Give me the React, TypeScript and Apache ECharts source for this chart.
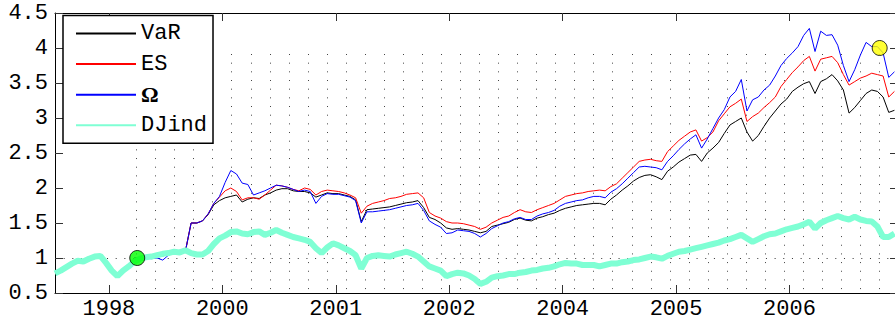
import React, { useEffect, useRef } from 'react';
import * as echarts from 'echarts';

// x axis: trading-period index; labelled ticks
const tickValues = [0, 20, 40, 60, 80, 100, 120];
const tickLabels = ['1998', '2000', '2001', '2002', '2004', '2005', '2006'];
const xMin = -9.5;
const xMax = 138.6;

// y axis ticks
const yMin = 0.5;
const yMax = 4.5;
const yStep = 0.5;

// DJ industrial index (normalised), first sample at x = -9.5, step 1
const djStart = -9.5;
const djind = [
  0.78, 0.82, 0.87, 0.92, 0.96, 0.95, 0.99, 1.02, 1.03, 0.93,
  0.82, 0.74, 0.82, 0.88, 0.95, 0.99, 1.01, 1.02, 1.04, 1.06,
  1.07, 1.09, 1.08, 1.11, 1.07, 1.05, 1.05, 1.1, 1.2, 1.28,
  1.32, 1.37, 1.38, 1.35, 1.34, 1.37, 1.38, 1.33, 1.36, 1.4,
  1.36, 1.33, 1.3, 1.28, 1.26, 1.23, 1.14, 1.07, 1.15, 1.21,
  1.18, 1.14, 1.1, 1.04, 0.85, 1.0, 1.03, 1.04, 1.03, 1.02,
  1.05, 1.07, 1.09, 1.06, 1.02, 0.95, 0.88, 0.85, 0.82, 0.74,
  0.77, 0.79, 0.78, 0.75, 0.7, 0.63, 0.66, 0.72, 0.74, 0.75,
  0.77, 0.77, 0.79, 0.8, 0.82, 0.83, 0.85, 0.86, 0.88, 0.91,
  0.93, 0.92, 0.92, 0.9, 0.9, 0.9, 0.88, 0.9, 0.92, 0.92,
  0.94, 0.95, 0.97, 0.98, 1.0, 1.02, 1.01, 0.99, 1.03, 1.06,
  1.09, 1.1, 1.12, 1.14, 1.16, 1.18, 1.2, 1.22, 1.25, 1.27,
  1.3, 1.33, 1.28, 1.23, 1.27, 1.31, 1.34, 1.35, 1.38, 1.41,
  1.43, 1.45, 1.48, 1.52, 1.42, 1.5, 1.54, 1.57, 1.6, 1.57,
  1.55, 1.59, 1.55, 1.53, 1.52, 1.45, 1.3, 1.3, 1.35,
];

// Strategy portfolios, first sample at x = 4.5, step 1
const stratStart = 4.5;
const varValues = [
  1.0, 1.0, 1.01, 1.0, 1.02, 1.03, 1.05, 1.07, 1.08,
  1.1, 1.5, 1.5, 1.53, 1.62, 1.76, 1.82, 1.86, 1.88, 1.9,
  1.8, 1.84, 1.86, 1.85, 1.9, 1.93, 1.97, 1.99, 1.99, 1.96,
  1.95, 1.95, 1.93, 1.87, 1.9, 1.93, 1.92, 1.92, 1.9, 1.88,
  1.83, 1.52, 1.69, 1.7, 1.71, 1.72, 1.73, 1.75, 1.77, 1.79,
  1.8, 1.82, 1.72, 1.58, 1.55, 1.5, 1.43, 1.41, 1.42, 1.41,
  1.4, 1.38, 1.36, 1.38, 1.45, 1.47, 1.49, 1.51, 1.55, 1.57,
  1.54, 1.53, 1.57, 1.59, 1.62, 1.64, 1.68, 1.71, 1.73, 1.75,
  1.76, 1.77, 1.78, 1.78, 1.76, 1.84, 1.9, 1.97, 2.03, 2.1,
  2.15, 2.18, 2.19, 2.16, 2.12, 2.24, 2.3, 2.37, 2.42, 2.47,
  2.48, 2.38, 2.5, 2.57, 2.65, 2.78, 2.9, 2.95, 3.0, 2.8,
  2.67, 2.75, 2.88, 3.0, 3.1, 3.2, 3.27, 3.38, 3.44, 3.49,
  3.52, 3.35, 3.52, 3.56, 3.62, 3.53, 3.4, 3.07, 3.15, 3.25,
  3.35, 3.4, 3.38, 3.3, 3.08, 3.11,
];
const esValues = [
  1.0, 1.0, 1.01, 1.0, 1.02, 1.04, 1.09, 1.08, 1.09,
  1.1, 1.5, 1.5, 1.53, 1.63, 1.78, 1.87, 1.96, 2.0, 1.95,
  1.83, 1.86, 1.86, 1.84, 1.9, 1.97, 2.04, 2.03, 2.01, 1.98,
  1.96, 2.0, 1.98, 1.9, 1.95, 1.97, 1.96, 1.95, 1.93, 1.9,
  1.86, 1.64, 1.74, 1.78, 1.8, 1.82, 1.85, 1.86, 1.88, 1.91,
  1.92, 1.93, 1.86, 1.65, 1.6, 1.57, 1.52, 1.5, 1.5, 1.49,
  1.47, 1.45, 1.41, 1.44, 1.5, 1.54, 1.58, 1.6, 1.65, 1.69,
  1.66, 1.65, 1.69, 1.72, 1.75, 1.78, 1.83, 1.88, 1.9, 1.92,
  1.93, 1.95, 1.96, 1.97, 1.96, 2.02, 2.06, 2.14, 2.22, 2.3,
  2.38, 2.4, 2.41, 2.39, 2.38, 2.52, 2.6, 2.68, 2.74, 2.8,
  2.83, 2.67, 2.72, 2.8, 2.96, 3.06, 3.16, 3.21, 3.27, 2.95,
  3.02, 3.07, 3.15, 3.22, 3.3, 3.45, 3.55, 3.65, 3.73, 3.82,
  3.88, 3.67, 3.84, 3.86, 3.88, 3.79, 3.62, 3.47, 3.52, 3.57,
  3.6, 3.64, 3.62, 3.6, 3.3, 3.38,
];
const omegaValues = [
  1.0, 1.0, 1.0, 0.99, 1.0, 0.97, 1.04, 1.07, 1.08,
  1.1, 1.5, 1.5, 1.53, 1.63, 1.78, 1.88, 2.08, 2.25, 2.2,
  2.07, 2.05, 1.9, 1.93, 1.96, 2.0, 2.04, 2.03, 2.01, 1.98,
  1.95, 1.97, 1.95, 1.78, 1.88, 1.92, 1.91, 1.91, 1.89, 1.87,
  1.82, 1.5, 1.66, 1.66, 1.67, 1.68, 1.69, 1.71, 1.73, 1.75,
  1.76, 1.78, 1.68, 1.53, 1.48, 1.44, 1.35, 1.36, 1.4, 1.39,
  1.38, 1.35, 1.3, 1.35, 1.42, 1.46, 1.5, 1.52, 1.56, 1.58,
  1.55, 1.55, 1.6, 1.63, 1.65, 1.68, 1.74, 1.78, 1.8, 1.82,
  1.83, 1.86, 1.88, 1.88, 1.86, 1.94, 1.99, 2.06, 2.14, 2.22,
  2.3, 2.31, 2.3, 2.29, 2.26, 2.38, 2.46, 2.55, 2.63, 2.7,
  2.76, 2.57, 2.7, 2.85, 3.0, 3.12, 3.3, 3.38, 3.55, 3.1,
  3.26, 3.3, 3.4, 3.47, 3.6, 3.75, 3.85, 3.93, 4.02, 4.18,
  4.28, 3.95, 4.24, 4.18, 4.19, 4.04, 3.75, 3.52, 3.69, 3.9,
  4.08, 4.02, 4.02, 3.93, 3.58, 3.66,
];

// Marker points: [x, value]
const startMarker = [[5, 1.0]];
const endMarker = [[135.9, 4.0]];

const seriesNames = ['VaR', 'ES', 'Ω', 'DJind'];

function toPairs(start: number, vals: number[]) {
  return vals.map((v, i) => [start + i, v]);
}

const MONO = 'Liberation Mono';

export default function App() {
  const ref = useRef<HTMLDivElement>(null);
  useEffect(() => {
    document.body.style.margin = '0';
    if (!ref.current) return;
    const chart = echarts.init(ref.current, null, { renderer: 'svg' });
    const axisLine = { show: true, onZero: false, lineStyle: { color: '#000', width: 1 } };
    const tickStyle = { color: '#333', width: 1 };
    const lineCommon = {
      type: 'line',
      showSymbol: false,
      symbol: 'none',
      xAxisIndex: 0,
      yAxisIndex: 0,
      silent: true,
    };
    chart.setOption({
      animation: false,
      backgroundColor: '#fff',
      grid: [
        { left: 55, top: 13, right: -2, bottom: 28 },
        { left: 136.5, top: 54, right: -2, bottom: 29 },
      ],
      legend: {
        data: seriesNames,
        orient: 'vertical',
        left: 63,
        top: 15.5,
        padding: [7, 6, 7, 12],
        itemWidth: 60,
        itemHeight: 22,
        itemGap: 8.6,
        backgroundColor: '#fff',
        borderColor: '#000',
        borderWidth: 1.5,
        borderRadius: 0,
        selectedMode: false,
        itemStyle: {
          color: 'rgba(0,0,0,0)',
          borderColor: 'rgba(0,0,0,0)',
          borderWidth: 0,
          opacity: 0,
        },
        formatter: (name: string) => (name === 'Ω' ? '{b|Ω}' : name),
        textStyle: {
          fontFamily: MONO,
          fontSize: 22,
          lineHeight: 22,
          color: '#000',
          rich: {
            b: {
              fontFamily: 'Liberation Serif',
              fontWeight: 'bold',
              fontSize: 22,
              lineHeight: 22,
              color: '#000',
            },
          },
        },
      },
      xAxis: [
        {
          type: 'value',
          gridIndex: 0,
          position: 'bottom',
          min: xMin,
          max: xMax,
          axisLine,
          axisTick: { show: true, inside: true, length: 8, lineStyle: tickStyle, customValues: tickValues },
          axisLabel: {
            show: true,
            customValues: tickValues,
            margin: 5,
            fontFamily: MONO,
            fontSize: 22,
            color: '#000',
            formatter: (v: number) => {
              const k = tickValues.indexOf(Math.round(v));
              return k >= 0 ? tickLabels[k] : '';
            },
          },
          splitLine: { show: false },
        },
        {
          type: 'value',
          gridIndex: 0,
          position: 'top',
          min: xMin,
          max: xMax,
          axisLine,
          axisTick: { show: true, inside: true, length: 8, lineStyle: tickStyle, customValues: tickValues },
          axisLabel: { show: false, customValues: tickValues },
          splitLine: { show: false },
        },
        {
          type: 'value',
          gridIndex: 1,
          min: 0,
          max: 39.82,
          interval: 1,
          axisLine: { show: false, onZero: false },
          axisTick: { show: false },
          axisLabel: { show: false },
          splitLine: {
            show: true,
            lineStyle: { color: '#444', width: 1, type: [1, 7.67] },
          },
        },
      ],
      yAxis: [
        {
          type: 'value',
          gridIndex: 0,
          position: 'left',
          min: yMin,
          max: yMax,
          interval: yStep,
          axisLine,
          axisTick: { show: true, inside: true, length: 8, lineStyle: tickStyle },
          axisLabel: {
            show: true,
            margin: 7,
            fontFamily: MONO,
            fontSize: 22,
            color: '#000',
          },
          splitLine: { show: false },
        },
        {
          type: 'value',
          gridIndex: 0,
          position: 'right',
          min: yMin,
          max: yMax,
          interval: yStep,
          axisLine,
          axisTick: { show: true, inside: true, length: 5, lineStyle: tickStyle },
          axisLabel: { show: false },
          splitLine: { show: false },
        },
        {
          type: 'value',
          gridIndex: 1,
          min: 0,
          max: 1,
          show: false,
          axisLine: { onZero: false },
        },
      ],
      series: [
        {
          ...lineCommon,
          name: 'VaR',
          data: toPairs(stratStart, varValues),
          lineStyle: { color: '#000', width: 1 },
          itemStyle: { color: '#000' },
          z: 2,
          markLine: {
            silent: true,
            symbol: 'none',
            z: 1,
            label: { show: false },
            lineStyle: { color: '#333', width: 1, type: [1, 7.67] },
            data: [{ yAxis: 1 }],
          },
        },
        {
          ...lineCommon,
          name: 'ES',
          data: toPairs(stratStart, esValues),
          lineStyle: { color: '#ff0000', width: 1 },
          itemStyle: { color: '#ff0000' },
          z: 3,
        },
        {
          ...lineCommon,
          name: 'Ω',
          data: toPairs(stratStart, omegaValues),
          lineStyle: { color: '#0000ff', width: 1 },
          itemStyle: { color: '#0000ff' },
          z: 4,
        },
        {
          ...lineCommon,
          name: 'DJind',
          data: toPairs(djStart, djind),
          lineStyle: { color: '#7fffd4', width: 6 },
          itemStyle: { color: '#7fffd4' },
          z: 5,
        },
        {
          type: 'scatter',
          name: 'start',
          xAxisIndex: 0,
          yAxisIndex: 0,
          data: startMarker,
          symbolSize: 15,
          itemStyle: { color: '#00ff00', borderColor: '#000', borderWidth: 1 },
          z: 6,
          silent: true,
        },
        {
          type: 'scatter',
          name: 'end',
          xAxisIndex: 0,
          yAxisIndex: 0,
          data: endMarker,
          symbolSize: 15,
          itemStyle: { color: '#ffff00', borderColor: '#000', borderWidth: 1 },
          z: 6,
          silent: true,
        },
      ],
    });
    return () => chart.dispose();
  }, []);
  return <div ref={ref} style={{ width: 895, height: 321 }} />;
}
